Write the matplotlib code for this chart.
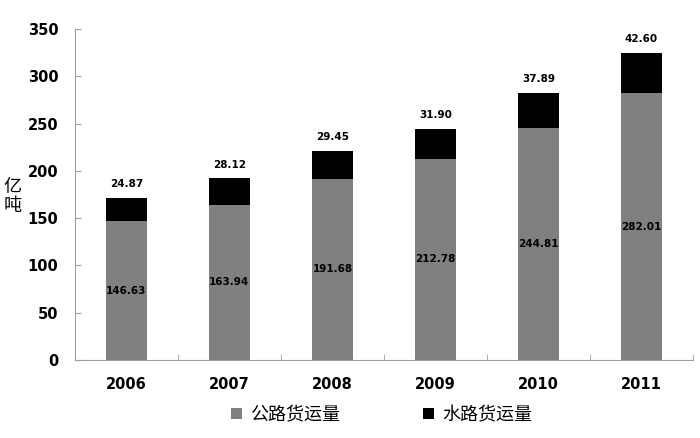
import matplotlib
matplotlib.use("Agg")
import matplotlib.pyplot as plt
import numpy as np
from matplotlib.patches import Patch

years = ["2006", "2007", "2008", "2009", "2010", "2011"]
road = [146.63, 163.94, 191.68, 212.78, 244.81, 282.01]
water = [24.87, 28.12, 29.45, 31.90, 37.89, 42.60]
series_names = ["公路货运量", "水路货运量"]
ylabel_chars = ["亿", "吨"]

cjk = ["Noto Sans CJK SC", "DejaVu Sans"]
plt.rcParams['font.family'] = cjk

fig = plt.figure(figsize=(7, 4.38), dpi=100)
ax = fig.add_axes([0.107, 0.178, 0.883, 0.756])

x = np.arange(len(years))
w = 0.4
gray = "#808080"
ax.bar(x, road, w, color=gray, zorder=2)
ax.bar(x, water, w, bottom=road, color="black", zorder=2)

for xi, r, wv in zip(x, road, water):
    ax.text(xi, r / 2, f"{r:.2f}", ha="center", va="center", fontsize=7.5,
            fontweight="bold", family="DejaVu Sans", color="black")
    ax.text(xi, r + wv + 9, f"{wv:.2f}", ha="center", va="bottom", fontsize=7.5,
            fontweight="bold", family="DejaVu Sans", color="black")

ax.set_xlim(-0.5, len(years) - 0.5)
ax.set_ylim(0, 350)
ax.set_yticks(np.arange(0, 351, 50))
ax.set_xticks(x)
ax.set_xticklabels(years)
ax.set_xticks(np.arange(-0.5, len(years) + 0.5, 1), minor=True)
for lab in ax.get_xticklabels() + ax.get_yticklabels():
    lab.set_fontweight("bold")
    lab.set_family("DejaVu Sans")
    lab.set_fontsize(10.5)
ax.tick_params(axis="x", which="major", length=0, pad=12)
ax.tick_params(axis="x", which="minor", length=4, direction="in", color="#a0a0a0")
ax.tick_params(axis="y", length=4, direction="in", color="#a0a0a0", pad=12)

for s in ["top", "right"]:
    ax.spines[s].set_visible(False)
for s in ["left", "bottom"]:
    ax.spines[s].set_color("#a0a0a0")

fig.text(0.018, 1 - 187 / 438, ylabel_chars[0], ha="center", va="center", fontsize=13)
fig.text(0.018, 1 - 206 / 438, ylabel_chars[1], ha="center", va="center", fontsize=13)

handles = [Patch(facecolor=gray), Patch(facecolor="black")]
fig.legend(handles, series_names, loc="lower center", bbox_to_anchor=(0.545, -0.005),
           ncol=2, frameon=False, fontsize=13, handlelength=0.6, handleheight=0.6,
           columnspacing=4.6, handletextpad=0.45)

fig.savefig("out.png", dpi=100)
